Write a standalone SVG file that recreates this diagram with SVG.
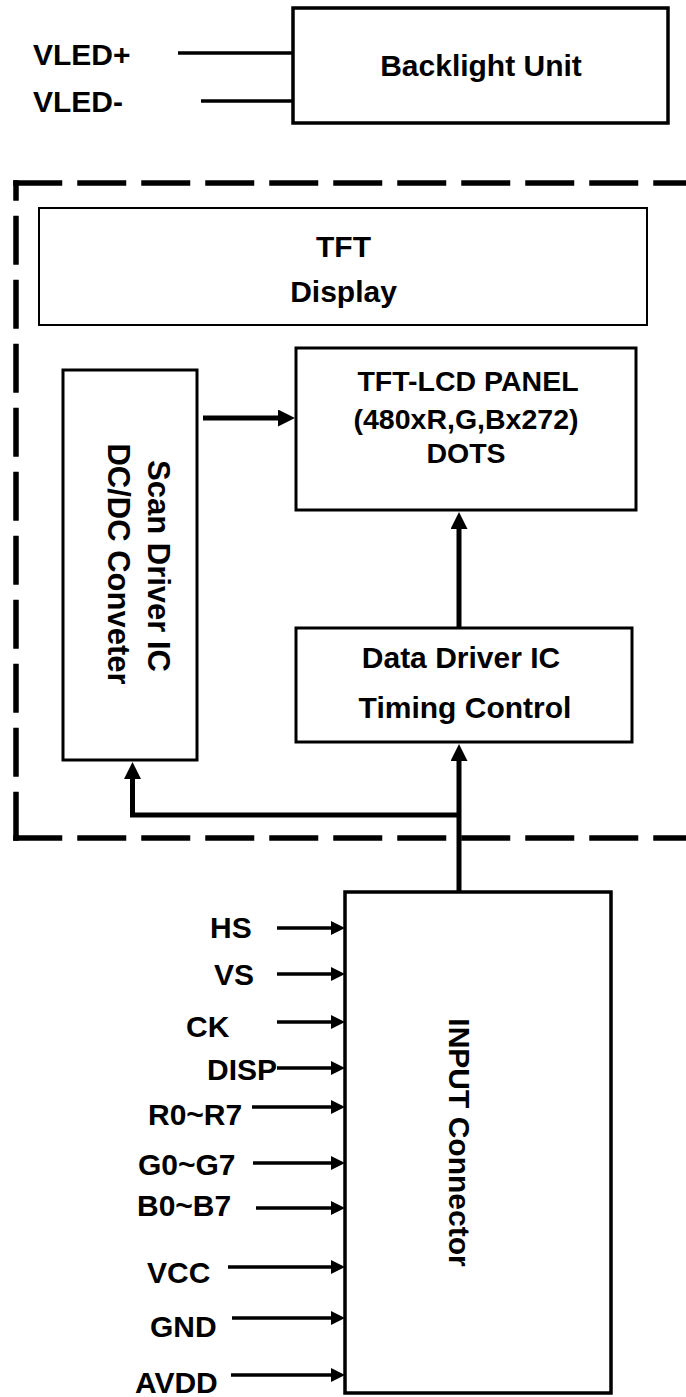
<svg xmlns="http://www.w3.org/2000/svg" width="686" height="1397" viewBox="0 0 686 1397">
<style>
text{font-family:"Liberation Sans",Arial,sans-serif;font-weight:bold;font-size:30px;fill:#000}
.box{fill:#fff;stroke:#000}
.c{text-anchor:middle}
.p{font-size:28.5px}
.thick{fill:none;stroke:#000;stroke-width:5}
.thin{fill:none;stroke:#000;stroke-width:3.5}
.dash{fill:none;stroke:#000;stroke-width:5.5;stroke-dasharray:43.5 20.5;stroke-linecap:square}
</style>
<defs>
<marker id="ah" markerUnits="userSpaceOnUse" markerWidth="17" markerHeight="17" refX="0" refY="8.5" orient="auto"><path d="M0,0 L17,8.5 L0,17 z" fill="#000"/></marker>
<marker id="as" markerUnits="userSpaceOnUse" markerWidth="14" markerHeight="14" refX="0" refY="7" orient="auto"><path d="M0,0 L14,7 L0,14 z" fill="#000"/></marker>
</defs>
<rect width="686" height="1397" fill="#fff"/>
<g id="enclosure">
<path class="dash" d="M16,183 H700"/>
<path class="dash" d="M16,838 V183"/>
<path class="dash" d="M16,838 H700"/>
</g>
<g id="backlight">
<rect class="box" x="293" y="8" width="375" height="115" stroke-width="3.5"/>
<text class="c" x="481" y="76">Backlight Unit</text>
</g>
<g id="vled">
<text x="33" y="65">VLED+</text>
<text x="33" y="112">VLED-</text>
</g>
<g id="tft-display">
<rect class="box" x="39" y="208" width="608" height="117" stroke-width="2"/>
<text class="c" x="343.5" y="257">TFT</text>
<text class="c" x="343.5" y="302">Display</text>
</g>
<g id="panel">
<rect class="box" x="296" y="348" width="340" height="162" stroke-width="3"/>
<text class="c p" x="468" y="391">TFT-LCD PANEL</text>
<text class="c p" x="466" y="429">(480xR,G,Bx272)</text>
<text class="c p" x="466" y="463">DOTS</text>
</g>
<g id="scan-driver">
<rect class="box" x="63" y="370" width="134" height="390" stroke-width="3"/>
<text class="c" transform="translate(148,566) rotate(90)" style="font-size:31px">Scan Driver IC</text>
<text class="c" transform="translate(108,564) rotate(90)" style="font-size:31px">DC/DC Conveter</text>
</g>
<g id="data-driver">
<rect class="box" x="296" y="628" width="336" height="114" stroke-width="3"/>
<text class="c" x="461" y="668">Data Driver IC</text>
<text class="c" x="465" y="718">Timing Control</text>
</g>
<g id="input-connector">
<rect class="box" x="345" y="892" width="266" height="501" stroke-width="3.5"/>
<text class="c" transform="translate(449,1142.5) rotate(90)">INPUT Connector</text>
</g>
<g id="input-labels">
<text x="210" y="938">HS</text>
<text x="214" y="985">VS</text>
<text x="186" y="1037">CK</text>
<text x="207" y="1080">DISP</text>
<text x="148" y="1125">R0~R7</text>
<text x="138" y="1175">G0~G7</text>
<text x="137" y="1216">B0~B7</text>
<text x="147" y="1283">VCC</text>
<text x="150" y="1337">GND</text>
<text x="135" y="1393">AVDD</text>
</g>
<g id="connectors">
<path class="thin" d="M178,53 H293"/>
<path class="thin" d="M201,101 H293"/>
<path class="thick" d="M203,418 H278" marker-end="url(#ah)"/>
<path class="thick" d="M459,628 V529" marker-end="url(#ah)"/>
<path class="thick" d="M459,892 V761" marker-end="url(#ah)"/>
<path class="thick" d="M459,815 H132.5 V779" marker-end="url(#ah)"/>
<path class="thin" d="M277,928 H331" marker-end="url(#as)"/>
<path class="thin" d="M277,974 H331" marker-end="url(#as)"/>
<path class="thin" d="M277,1022 H331" marker-end="url(#as)"/>
<path class="thin" d="M277,1068 H331" marker-end="url(#as)"/>
<path class="thin" d="M252,1107 H331" marker-end="url(#as)"/>
<path class="thin" d="M253,1163 H331" marker-end="url(#as)"/>
<path class="thin" d="M256,1208 H331" marker-end="url(#as)"/>
<path class="thin" d="M228,1267 H331" marker-end="url(#as)"/>
<path class="thin" d="M232,1318 H331" marker-end="url(#as)"/>
<path class="thin" d="M231,1375 H331" marker-end="url(#as)"/>
</g>
</svg>
